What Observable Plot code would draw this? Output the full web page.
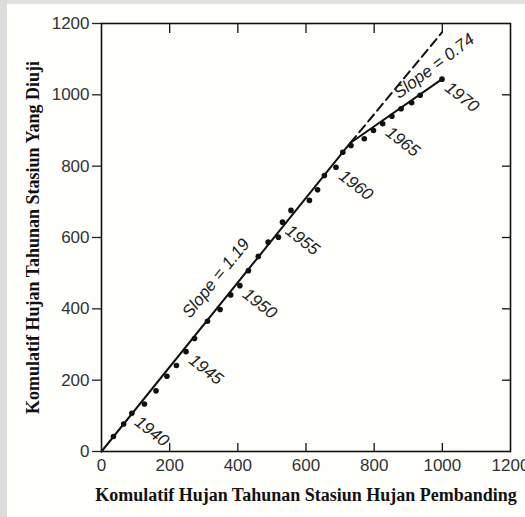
<!DOCTYPE html>
<html>
<head>
<meta charset="utf-8">
<script src="https://cdn.jsdelivr.net/npm/d3@7"></script>
<script src="https://cdn.jsdelivr.net/npm/@observablehq/plot@0.6"></script>
<style>
  html, body { margin: 0; padding: 0; background: #fefefb; }
  #chart {
    width: 525px; height: 517px;
    background:
      linear-gradient(to right, #dcdcdc 0px, #dcdcdc 7px, transparent 7px),
      linear-gradient(to bottom, #e2e2e2 0px, #e2e2e2 4px, #fefefb 4px);
  }
  #chart svg { display: block; }
</style>
</head>
<body>
<div id="chart"></div>
<script>
// ---- data ----
const years   = [1938,1939,1940,1941,1942,1943,1944,1945,1946,1947,1948,1949,1950,1951,1952,1953,1954,1955,1956,1957,1958,1959,1960,1961,1962,1963,1964,1965,1966,1967,1968,1969,1970];
const cumRef  = [35,65,89,126,160,192,220,248,273,311,348,379,406,431,460,489,519,531,556,610,634,654,688,708,732,771,798,825,852,879,910,935,999];
const cumTest = [42,77,107,133,170,211,241,280,317,365,398,439,465,507,547,587,601,643,676,704,734,774,797,839,858,877,900,919,940,961,978,999,1044];
const labeledYears = [1940,1945,1950,1955,1960,1965,1970];

const fitX = [0, 730, 999];
const fitY = [0, 865, 1044];
const extX = [730, 999];
const extY = [865, 1175];
const slopeTexts = ["Slope = 1.19", "Slope = 0.74"];

const xTicks = [0, 200, 400, 600, 800, 1000, 1200];
const yTicks = [0, 200, 400, 600, 800, 1000, 1200];
const innerTicks = [200, 400, 600, 800, 1000];

const xTitle = "Komulatif Hujan Tahunan Stasiun Hujan Pembanding";
const yTitle = "Komulatif Hujan Tahunan Stasiun Yang Diuji";

// ---- derived tables ----
const points = years.map((yr, i) => ({year: yr, x: cumRef[i], y: cumTest[i]}));
const yearLabels = points.filter(d => labeledYears.includes(d.year));
const fitLine = fitX.map((x, i) => ({x, y: fitY[i]}));
const extLine = extX.map((x, i) => ({x, y: extY[i]}));
const slope1 = [{text: slopeTexts[0], x: (fitX[0] + fitX[1]) / 2, y: (fitY[0] + fitY[1]) / 2}];
const slope2 = [{text: slopeTexts[1], x: fitX[2], y: fitY[2]}];

// ---- layout ----
const W = 525, H = 517;
const mL = 101, mR = 15, mT = 23, mB = 66;
const plotW = W - mL - mR, plotH = H - mT - mB;
const tickLen = 8;

const labelFont = "'Liberation Sans', Arial, sans-serif";
const titleFont = "'Liberation Serif', 'Times New Roman', serif";

const chart = Plot.plot({
  width: W,
  height: H,
  marginLeft: mL,
  marginRight: mR,
  marginTop: mT,
  marginBottom: mB,
  style: {
    background: "transparent",
    fontFamily: labelFont,
    color: "#222"
  },
  x: {domain: [0, 1200], axis: null},
  y: {domain: [0, 1200], axis: null},
  marks: [
    Plot.axisX(xTicks, {tickSize: 0, tickPadding: 7, fontSize: 17, label: null, fill: "#333", tickFormat: d => String(d)}),
    Plot.axisY(yTicks, {tickSize: 9, tickPadding: 3, fontSize: 17, label: null, fill: "#333", strokeWidth: 1.3, tickFormat: d => String(d)}),
    // inward ticks: bottom, top, right
    Plot.tickX(innerTicks, {x: d => d, insetTop: plotH - tickLen, stroke: "#111", strokeWidth: 1.3}),
    Plot.tickX(innerTicks, {x: d => d, insetBottom: plotH - tickLen - 2, stroke: "#111", strokeWidth: 1.3}),
    Plot.tickY(innerTicks, {y: d => d, insetLeft: plotW - tickLen, stroke: "#111", strokeWidth: 1.3}),
    Plot.frame({stroke: "#111", strokeWidth: 1.6}),
    // fitted lines
    Plot.line(extLine, {x: "x", y: "y", stroke: "#111", strokeWidth: 2, strokeDasharray: "9,5"}),
    Plot.line(fitLine, {x: "x", y: "y", stroke: "#111", strokeWidth: 2}),
    Plot.dot(points, {x: "x", y: "y", r: 2.8, fill: "#111", stroke: null}),
    // year labels
    Plot.text(yearLabels, {
      x: "x", y: "y", text: d => String(d.year),
      dx: 20, dy: 18, rotate: 38,
      fontSize: 17, fontStyle: "italic", fontFamily: labelFont,
      fill: "#222", textAnchor: "middle", lineAnchor: "middle",
      letterSpacing: 3
    }),
    // slope labels
    Plot.text(slope1, {
      x: "x", y: "y", text: "text",
      dx: -10, dy: -19, rotate: -51,
      fontSize: 17, fontStyle: "italic", fontFamily: labelFont,
      fill: "#222", textAnchor: "middle", lineAnchor: "middle"
    }),
    Plot.text(slope2, {
      x: "x", y: "y", text: "text",
      dx: -8, dy: -13, rotate: -37,
      fontSize: 17, fontStyle: "italic", fontFamily: labelFont,
      fill: "#222", textAnchor: "middle", lineAnchor: "middle"
    }),
    // axis titles
    Plot.text([xTitle], {
      frameAnchor: "bottom", dy: 44, text: d => d,
      fontSize: 18, fontWeight: "bold", fontFamily: titleFont,
      fill: "#111", textAnchor: "middle", lineAnchor: "middle"
    }),
    Plot.text([yTitle], {
      frameAnchor: "left", dx: -68, rotate: -90, text: d => d,
      fontSize: 18, fontWeight: "bold", fontFamily: titleFont,
      fill: "#111", textAnchor: "middle", lineAnchor: "middle",
      letterSpacing: 0.6
    })
  ]
});

document.getElementById("chart").appendChild(chart);
</script>
</body>
</html>
